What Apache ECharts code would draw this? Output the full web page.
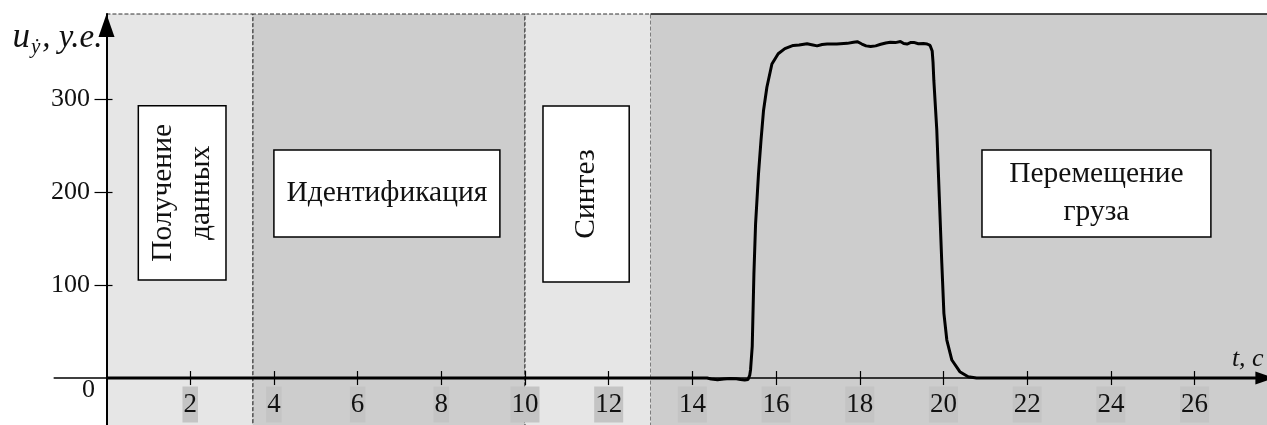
<!DOCTYPE html>
<html>
<head>
<meta charset="utf-8">
<script src="https://cdn.jsdelivr.net/npm/echarts@6/dist/echarts.min.js"></script>
<style>
  html, body { margin: 0; padding: 0; background: #fff; }
  #chart { width: 1267px; height: 425px; }
</style>
</head>
<body>
<div id="chart"></div>
<script>
// Control signal of the crane drive over time, by work phase
const timeS = [
  0, 14.35, 14.45, 14.6, 14.75, 14.9, 15.05, 15.15, 15.25, 15.33,
  15.37, 15.39, 15.43, 15.47, 15.51, 15.58, 15.64, 15.70, 15.78, 15.90,
  16.05, 16.21, 16.41, 16.55, 16.74, 16.85, 16.98, 17.10, 17.22, 17.45,
  17.70, 17.85, 17.94, 18.05, 18.15, 18.26, 18.38, 18.50, 18.62, 18.73,
  18.85, 18.97, 19.05, 19.13, 19.21, 19.29, 19.40, 19.52, 19.61, 19.68,
  19.73, 19.75, 19.77, 19.84, 19.90, 19.96, 20.01, 20.08, 20.20, 20.39,
  20.59, 20.79, 27.8
];
const controlU = [
  0, 0, -1, -1.8, -1, -0.5, -0.8, -1.5, -2, -1.5,
  3, 9, 34, 112, 166, 220, 256, 288, 313, 338,
  349, 354.5, 358, 358.5, 359.8, 358.8, 357.5, 359, 359.5, 359.5,
  360.2, 361.5, 362, 359.5, 357.5, 356.8, 357.5, 359.2, 360.5, 361.3,
  361, 362.2, 360, 359.5, 361, 361.2, 359.8, 360, 359.5, 358,
  352, 340, 320, 267, 195, 123.5, 69.6, 40.9, 19.4, 6.8,
  1.4, 0, 0
];

// Phase boundaries (s) and phase titles
const phaseEdges = [0, 3.5, 10, 13, 27.8];
const phaseNames = ['Получение\nданных', 'Идентификация', 'Синтез', 'Перемещение\nгруза'];

// Tick labels
const xTickValues = [2, 4, 6, 8, 10, 12, 14, 16, 18, 20, 22, 24, 26];
const yTickValues = [100, 200, 300];
const yOriginLabel = [0];

const SERIF = '"Liberation Serif", "DejaVu Serif", "Times New Roman", serif';
const X_MIN = -1.25, X_MAX = 27.8, Y_MIN = -52.7, Y_MAX = 391.8;
const LIGHT = '#e6e6e6', DARK = '#cdcdcd';

// Phase captions: box extents in axis units, text orientation
const captionLayout = [
  { t0: 0.76, t1: 2.855, v0: 105.5, v1: 293.1, vertical: true },
  { t0: 4.0, t1: 9.40, v0: 151.8, v1: 245.4, vertical: false },
  { t0: 10.43, t1: 12.49, v0: 103.3, v1: 292.8, vertical: true },
  { t0: 20.92, t1: 26.39, v0: 151.8, v1: 245.4, vertical: false }
];

const chart = echarts.init(document.getElementById('chart'), null, { renderer: 'canvas' });

const phaseAreas = [];
for (let i = 0; i < phaseNames.length; i++) {
  const last = i === phaseNames.length - 1;
  phaseAreas.push([
    {
      xAxis: phaseEdges[i], yAxis: Y_MIN,
      itemStyle: {
        color: i % 2 === 0 ? LIGHT : DARK,
        borderColor: last ? 'transparent' : '#333',
        borderWidth: last ? 0 : 1,
        borderType: [4, 2]
      }
    },
    { xAxis: phaseEdges[i + 1], yAxis: Y_MAX }
  ]);
}

// Axis labels sit at the grid edges; the axes themselves cross at zero,
// so the label margins reach back from the edges to the zero lines.
chart.setOption({
  animation: false,
  backgroundColor: '#fff',
  grid: {
    left: 54.2, top: 14, width: 1215.7, height: 413,
    containLabel: false, outerBoundsMode: 'none'
  },
  xAxis: [
    {
      type: 'value', min: X_MIN, max: X_MAX, position: 'bottom', z: 10,
      axisLine: {
        onZero: true,
        lineStyle: { color: '#000', width: 1.5 },
        symbol: ['none', 'triangle'], symbolSize: [13, 19], symbolOffset: [0, -5]
      },
      axisTick: { show: true, customValues: xTickValues, length: 7, lineStyle: { color: '#000', width: 1.2 } },
      axisLabel: {
        customValues: xTickValues, margin: -40.5,
        fontFamily: SERIF, fontSize: 27, color: '#111',
        backgroundColor: '#c4c4c4', padding: [3, 1, 3, 1], lineHeight: 30
      },
      splitLine: { show: false },
      name: 't, с', nameLocation: 'end', nameGap: -38,
      nameTextStyle: {
        fontFamily: SERIF, fontStyle: 'italic', fontSize: 26, color: '#111',
        align: 'left', verticalAlign: 'bottom', lineHeight: 26, padding: [0, 0, 6, 0]
      }
    },
    {
      // upward half of the crossing ticks
      type: 'value', min: X_MIN, max: X_MAX, position: 'top', z: 10,
      axisLine: { show: false, onZero: true },
      axisTick: { show: true, customValues: xTickValues, length: 7, lineStyle: { color: '#000', width: 1.2 } },
      axisLabel: { show: false },
      splitLine: { show: false }
    }
  ],
  yAxis: [
    {
      type: 'value', min: Y_MIN, max: Y_MAX, position: 'left', z: 10,
      axisLine: {
        onZero: true,
        lineStyle: { color: '#000', width: 2 },
        symbol: ['none', 'triangle'], symbolSize: [16, 23], symbolOffset: [0, -11.5]
      },
      axisTick: { show: true, customValues: yTickValues, length: 12, lineStyle: { color: '#000', width: 1.2 } },
      axisLabel: { customValues: yTickValues, margin: -35.8, fontFamily: SERIF, fontSize: 26, color: '#111' },
      splitLine: { show: false },
      name: '{u|u}{s|ẏ}{p|, у.е.}', nameLocation: 'end', nameGap: -24,
      nameTextStyle: {
        align: 'right', verticalAlign: 'middle', padding: [0, 4, 0, 0],
        rich: {
          u: { fontFamily: SERIF, fontStyle: 'italic', fontSize: 35, color: '#111' },
          s: { fontFamily: SERIF, fontStyle: 'italic', fontSize: 21, color: '#111', padding: [18, 2, 0, 1] },
          p: { fontFamily: SERIF, fontStyle: 'italic', fontSize: 33, color: '#111' }
        }
      }
    },
    {
      // rightward half of the crossing ticks, plus the origin label
      type: 'value', min: Y_MIN, max: Y_MAX, position: 'right', z: 10,
      axisLine: { show: false, onZero: true },
      axisTick: { show: true, customValues: yTickValues, length: 6, lineStyle: { color: '#000', width: 1.2 } },
      axisLabel: {
        customValues: yOriginLabel, inside: true, margin: 1174.9,
        fontFamily: SERIF, fontSize: 26, color: '#111',
        verticalAlign: 'top', lineHeight: 25
      },
      splitLine: { show: false }
    }
  ],
  series: [
    {
      type: 'line', data: [], z: 1, silent: true,
      markArea: { silent: true, label: { show: false }, data: phaseAreas },
      markLine: {
        silent: true, symbol: 'none', label: { show: false },
        lineStyle: { color: '#111', width: 1.5, type: 'solid' },
        data: [[{ coord: [phaseEdges[3], Y_MAX] }, { coord: [phaseEdges[4], Y_MAX] }]]
      }
    },
    {
      type: 'line', z: 3, silent: true,
      data: timeS.map((t, i) => [t, controlU[i]]),
      showSymbol: false, smooth: false,
      lineStyle: { color: '#000', width: 3 },
      emphasis: { disabled: true }
    }
  ]
});

// Phase caption boxes, placed through the series' axis scales
const graphics = captionLayout.map((b, i) => {
  const p0 = chart.convertToPixel({ seriesIndex: 1 }, [b.t0, b.v1]);
  const p1 = chart.convertToPixel({ seriesIndex: 1 }, [b.t1, b.v0]);
  const cx = (p0[0] + p1[0]) / 2, cy = (p0[1] + p1[1]) / 2;
  return {
    type: 'group', z: 20,
    children: [
      {
        type: 'rect', z: 20,
        shape: { x: p0[0], y: p0[1], width: p1[0] - p0[0], height: p1[1] - p0[1] },
        style: { fill: '#fff', stroke: '#000', lineWidth: 1.5 }
      },
      {
        type: 'text', z: 21, x: cx, y: cy, rotation: b.vertical ? Math.PI / 2 : 0,
        style: {
          text: phaseNames[i], fontFamily: SERIF, fontSize: 29.5, fill: '#111',
          align: 'center', verticalAlign: 'middle', lineHeight: 38
        }
      }
    ]
  };
});
chart.setOption({ graphic: graphics });
</script>
</body>
</html>
